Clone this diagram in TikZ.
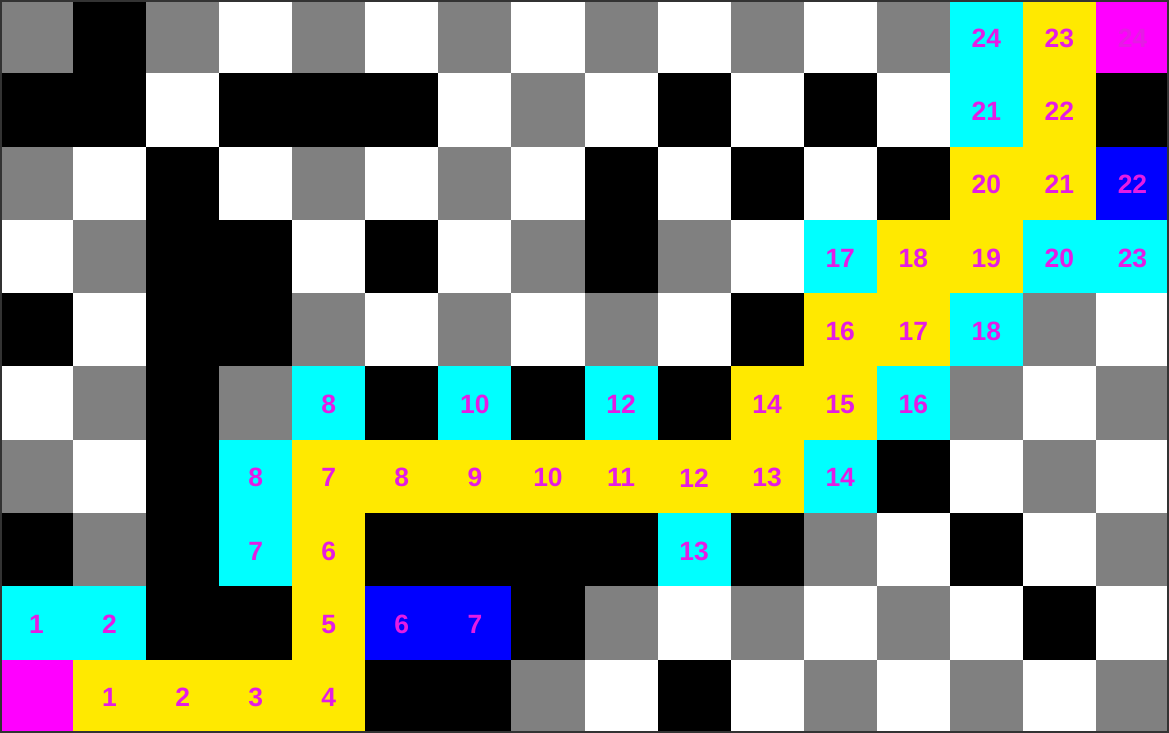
\documentclass[tikz,border=0pt]{standalone}
\usepackage{fontspec}
\setmainfont{Liberation Sans}
\usepackage{tikz}
\usetikzlibrary{positioning}

\definecolor{cellg}{RGB}{128,128,128}
\definecolor{cellk}{RGB}{0,0,0}
\definecolor{cellw}{RGB}{255,255,255}
\definecolor{cellc}{RGB}{0,255,255}
\definecolor{celly}{RGB}{255,233,0}
\definecolor{cellm}{RGB}{255,0,255}
\definecolor{cellb}{RGB}{0,0,255}
\definecolor{steptext}{RGB}{228,28,228}
\definecolor{framegray}{RGB}{51,51,51}

\tikzset{
    steplabel/.style={text=steptext, font=\fontsize{10.3}{12}\selectfont\bfseries, inner sep=0pt},
    frameline/.style={draw=framegray, line width=1.2pt}
}

\begin{document}
\begin{tikzpicture}[x=1cm, y=1.003cm]
    \useasboundingbox (0,0) rectangle (16,-10);

    % cells, row by row from the top
    \foreach \row [count=\j from 0] in {
        {g,k,g,w,g,w,g,w,g,w,g,w,g,c,y,m},
        {k,k,w,k,k,k,w,g,w,k,w,k,w,c,y,k},
        {g,w,k,w,g,w,g,w,k,w,k,w,k,y,y,b},
        {w,g,k,k,w,k,w,g,k,g,w,c,y,y,c,c},
        {k,w,k,k,g,w,g,w,g,w,k,y,y,c,g,w},
        {w,g,k,g,c,k,c,k,c,k,y,y,c,g,w,g},
        {g,w,k,c,y,y,y,y,y,y,y,c,k,w,g,w},
        {k,g,k,c,y,k,k,k,k,c,k,g,w,k,w,g},
        {c,c,k,k,y,b,b,k,g,w,g,w,g,w,k,w},
        {m,y,y,y,y,k,k,g,w,k,w,g,w,g,w,g}}
    {
        \foreach \c [count=\i from 0] in \row {
            \fill[fill=cell\c] (\i,-\j) rectangle ++(1,-1);
        }
    }

    % step numbers
    \foreach \col/\rw/\txt [count=\n] in {
        13/0/24, 14/0/23, 15/0/24,
        13/1/21, 14/1/22,
        13/2/20, 14/2/21, 15/2/22,
        11/3/17, 12/3/18, 13/3/19, 14/3/20, 15/3/23,
        11/4/16, 12/4/17, 13/4/18,
        4/5/8, 6/5/10, 8/5/12, 10/5/14, 11/5/15, 12/5/16,
        3/6/8, 4/6/7, 5/6/8, 6/6/9, 7/6/10, 8/6/11, 9/6/12, 10/6/13, 11/6/14,
        3/7/7, 4/7/6, 9/7/13,
        0/8/1, 1/8/2, 4/8/5, 5/8/6, 6/8/7,
        1/9/1, 2/9/2, 3/9/3, 4/9/4}
    {
        \node[steplabel] (lbl\n) at (\col+0.5,-\rw-0.52) {\txt};
    }

    \draw[frameline] (0,0) rectangle (16,-10);
\end{tikzpicture}
\end{document}
